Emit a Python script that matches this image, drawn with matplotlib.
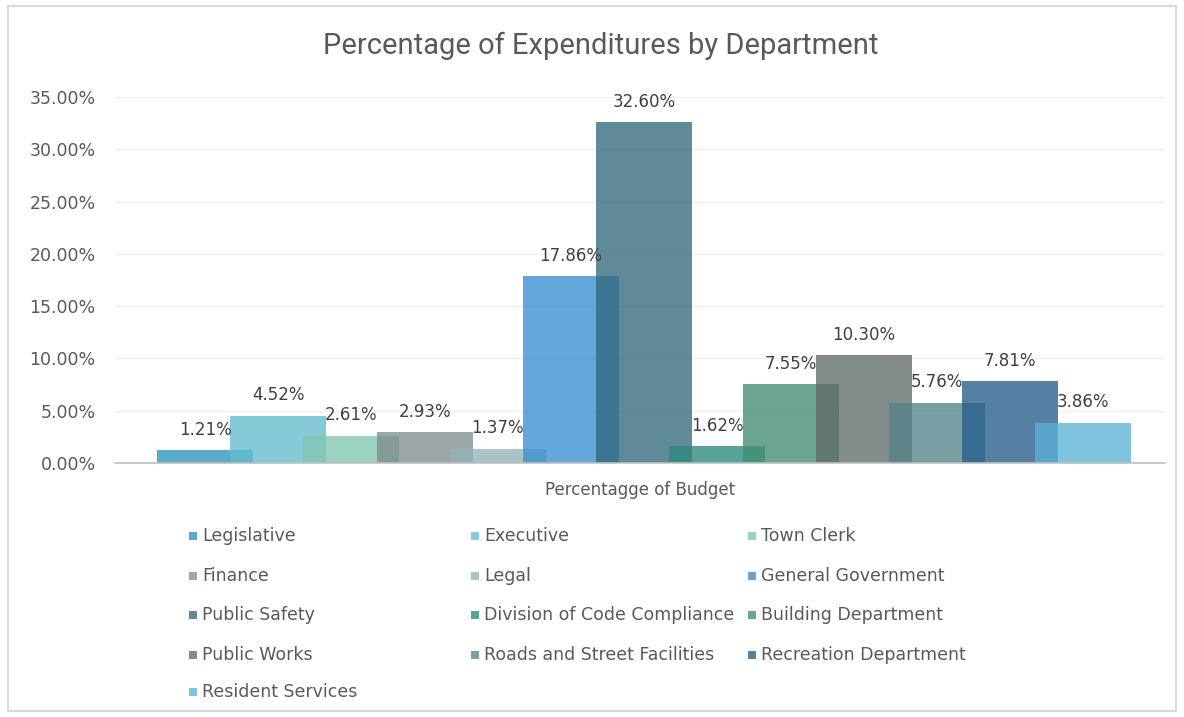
import numpy as np
import matplotlib
matplotlib.use("Agg")
import matplotlib.pyplot as plt
from matplotlib import font_manager
from matplotlib.patches import Rectangle
from matplotlib.ticker import FuncFormatter

# department spending shares (% of budget)
departments = [
    "Legislative", "Executive", "Town Clerk",
    "Finance", "Legal", "General Government",
    "Public Safety", "Division of Code Compliance", "Building Department",
    "Public Works", "Roads and Street Facilities", "Recreation Department",
    "Resident Services",
]
shares = [1.21, 4.52, 2.61, 2.93, 1.37, 17.86, 32.60, 1.62, 7.55, 10.30, 5.76, 7.81, 3.86]
y_ticks = [0, 5, 10, 15, 20, 25, 30, 35]

# how each bar looks on white; bars are semi transparent so overlaps darken
shown = ["#5aaacb", "#86cbd8", "#9dd3c0", "#9ca5a8", "#a9c3c8", "#64a8da", "#5f8a9a",
         "#5aa39a", "#6aa590", "#838b8b", "#7a9ea3", "#5681a4", "#80c3e0"]
ALPHA = 0.78


def base_colour(hex_col):
    rgb = np.array(matplotlib.colors.to_rgb(hex_col))
    return tuple(np.clip((rgb - (1 - ALPHA)) / ALPHA, 0, 1))


text_col = "#595959"
plt.rcParams["font.family"] = "DejaVu Sans"

# narrow face for the title if one is around
installed = {f.name for f in font_manager.fontManager.ttflist}
title_font, title_size = "Roboto", 21
for name, size in [("Liberation Sans Narrow", 24), ("DejaVu Sans Condensed", 21)]:
    if name in installed:
        title_font, title_size = name, size
        break

fig = plt.figure(figsize=(11.84, 7.17), dpi=100)
ax = fig.add_axes([115 / 1184, 1 - 463 / 717, 1050 / 1184, 366 / 717])

# outer chart frame
fig.patches.append(Rectangle((8 / 1184, 6 / 717), 1168 / 1184, 705 / 717,
                             transform=fig.transFigure, fill=False,
                             edgecolor="#d9d9d9", linewidth=1.5))

step = 0.0697
width = 0.0914
n = len(departments)
centre = 0.004
for i, (name, val) in enumerate(zip(departments, shares)):
    x = centre + (i - (n - 1) / 2) * step
    ax.bar(x, val, width=width, color=base_colour(shown[i]), alpha=ALPHA,
           linewidth=0, zorder=2 + i)
    ax.text(x, val + 1.1, f"{val:.2f}%", ha="center", va="bottom",
            fontsize=12, color="#404040", zorder=30)

ax.set_xlim(-0.5, 0.5)
ax.set_ylim(0, 35)
ax.set_yticks(y_ticks)
ax.yaxis.set_major_formatter(FuncFormatter(lambda v, p: f"{v:.2f}%"))
ax.tick_params(axis="y", length=0, pad=14, labelsize=12.5, labelcolor=text_col)
ax.set_xticks([])
ax.grid(axis="y", color="#eeeeee", linewidth=1, zorder=0)
for side in ["top", "right", "left"]:
    ax.spines[side].set_visible(False)
ax.spines["bottom"].set_color("#bfbfbf")
ax.spines["bottom"].set_linewidth(1.2)
ax.spines["bottom"].set_zorder(40)

fig.text(640 / 1184, 1 - 490 / 717, "Percentagge of Budget", ha="center", va="center",
         fontsize=12, color=text_col)
fig.text(601 / 1184, 1 - 46 / 717, "Percentage of Expenditures by Department",
         ha="center", va="center", fontsize=title_size, color=text_col,
         family=[title_font, "DejaVu Sans"])

# legend laid out row by row in three columns
col_x = [193, 475, 752]
row_y = [536, 576, 615, 655, 692]
for i, name in enumerate(departments):
    cx = col_x[i % 3]
    cy = row_y[i // 3]
    fig.patches.append(Rectangle(((cx - 4) / 1184, 1 - (cy + 4) / 717), 8 / 1184, 8 / 717,
                                 transform=fig.transFigure, color=shown[i], linewidth=0))
    fig.text((cx + 9) / 1184, 1 - cy / 717, name, ha="left", va="center",
             fontsize=12.5, color=text_col)

fig.savefig("out.png", dpi=100, facecolor="white")
